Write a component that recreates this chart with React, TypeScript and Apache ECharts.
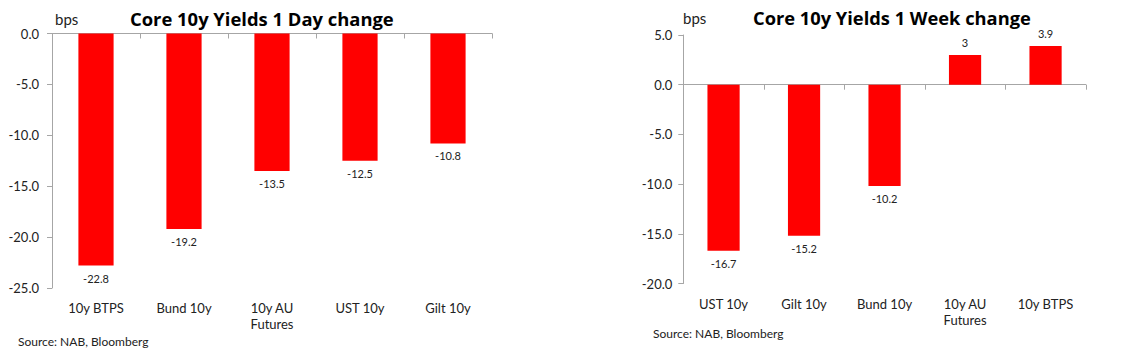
import React, { useEffect, useRef } from "react";
import * as echarts from "echarts";

const dayCategories = ["10y BTPS", "Bund 10y", "10y AU\nFutures", "UST 10y", "Gilt 10y"];
const dayValues = [-22.8, -19.2, -13.5, -12.5, -10.8];
const dayAxis = { min: -25, max: 0, interval: 5 };

const weekCategories = ["UST 10y", "Gilt 10y", "Bund 10y", "10y AU\nFutures", "10y BTPS"];
const weekValues = [-16.7, -15.2, -10.2, 3, 3.9];
const weekAxis = { min: -20, max: 5, interval: 5 };

const dayTitle = "Core 10y Yields 1 Day change";
const weekTitle = "Core 10y Yields 1 Week change";
const unitLabel = "bps";
const sourceText = "Source: NAB, Bloomberg";

const FONT = "Lato, 'Open Sans', sans-serif";
const TITLE_FONT = "'Open Sans', Lato, sans-serif";
const AXIS_COLOR = "#a6a6a6";
const TEXT_COLOR = "#222";

function buildX(gridIndex: number, data: string[]) {
  return [
    {
      gridIndex,
      type: "category",
      data,
      position: "bottom",
      axisLine: { show: false, onZero: false },
      axisTick: { show: false },
      axisLabel: {
        show: true,
        interval: 0,
        margin: 12,
        fontSize: 13,
        lineHeight: 16,
        color: TEXT_COLOR,
        fontFamily: FONT,
      },
    },
    {
      gridIndex,
      type: "category",
      data,
      position: "bottom",
      axisLine: { show: true, onZero: true, lineStyle: { color: AXIS_COLOR, width: 1 } },
      axisTick: { show: true, length: 5, lineStyle: { color: AXIS_COLOR } },
      axisLabel: { show: false },
    },
  ];
}

function buildY(gridIndex: number, ax: { min: number; max: number; interval: number }, margin: number) {
  return {
    gridIndex,
    type: "value",
    min: ax.min,
    max: ax.max,
    interval: ax.interval,
    axisLine: { show: true, lineStyle: { color: AXIS_COLOR, width: 1 } },
    axisTick: { show: true, length: 5, lineStyle: { color: AXIS_COLOR } },
    splitLine: { show: false },
    axisLabel: {
      margin,
      fontSize: 13,
      color: TEXT_COLOR,
      fontFamily: FONT,
      formatter: (v: number) => v.toFixed(1),
    },
  };
}

function buildSeries(xAxisIndex: number, yAxisIndex: number, values: number[], fontSize: number) {
  return {
    type: "bar",
    xAxisIndex,
    yAxisIndex,
    barWidth: "40%",
    itemStyle: { color: "#ff0000" },
    label: {
      show: true,
      distance: 7,
      fontSize,
      color: TEXT_COLOR,
      fontFamily: FONT,
      formatter: (p: any) => String(p.value),
    },
    data: values.map((v) => ({ value: v, label: { position: v < 0 ? "bottom" : "top" } })),
  };
}

function txt(text: string, x: number, y: number, fontSize: number, bold = false, color = "#000", family = FONT) {
  return {
    type: "text",
    x,
    y,
    style: {
      text,
      fontSize,
      fontWeight: bold ? "bold" : "normal",
      fontFamily: family,
      fill: color,
      verticalAlign: "middle",
      align: "left",
    },
  };
}

export default function App() {
  const ref = useRef<HTMLDivElement>(null);
  useEffect(() => {
    if (!ref.current) return;
    const chart = echarts.init(ref.current, undefined, { renderer: "svg" });
    const option: any = {
      animation: false,
      backgroundColor: "#ffffff",
      grid: [
        { left: 52, top: 33.5, width: 440, height: 254.5 },
        { left: 683.3, top: 35, width: 402.5, height: 248.5 },
      ],
      xAxis: [...buildX(0, dayCategories), ...buildX(1, weekCategories)],
      yAxis: [buildY(0, dayAxis, 13), buildY(1, weekAxis, 11)],
      series: [buildSeries(0, 0, dayValues, 11), buildSeries(2, 1, weekValues, 11)],
      graphic: [
        txt(unitLabel, 55, 19, 15, false, TEXT_COLOR),
        txt(dayTitle, 130, 18.5, 18.4, true, "#000", TITLE_FONT),
        txt(sourceText, 18, 341, 12, false, TEXT_COLOR),
        txt(unitLabel, 683, 18, 15, false, TEXT_COLOR),
        txt(weekTitle, 753, 17, 18.3, true, "#000", TITLE_FONT),
        txt(sourceText, 653, 333.5, 12, false, TEXT_COLOR),
      ],
    };
    chart.setOption(option);
    return () => chart.dispose();
  }, []);
  return (
    <div
      ref={ref}
      style={{ position: "fixed", left: 0, top: 0, width: 1122, height: 353, background: "#fff" }}
    />
  );
}
